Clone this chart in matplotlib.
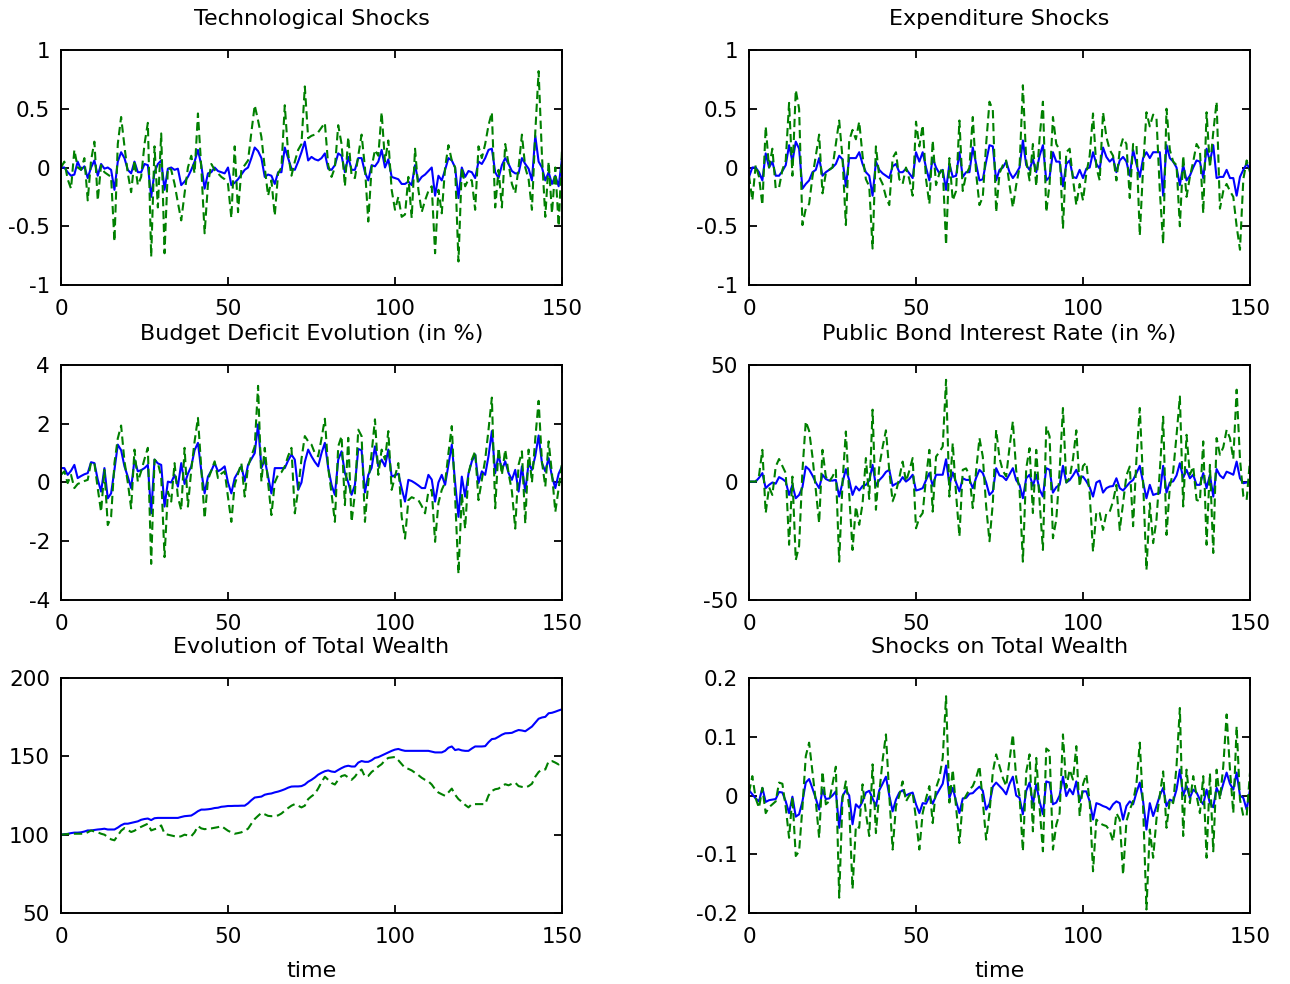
import numpy as np
import matplotlib
matplotlib.use("Agg")
import matplotlib.pyplot as plt

plt.rcParams['font.family'] = ['DejaVu Sans']

t = np.arange(151)

# technological shocks
tech_b = [0.0, 0.0, -0.04, -0.07, -0.06, 0.05, -0.02, 0.01, -0.09, 0.0, 0.06, -0.07, 0.03, -0.01, 0.0, -0.02, -0.19, 0.05, 0.13, 0.08,
          -0.02, -0.05, 0.05, -0.04, -0.04, 0.03, 0.02, -0.25, -0.04, 0.03, 0.06, -0.19, -0.01, 0.0, -0.02, -0.01, -0.15, -0.12, -0.08, -0.02,
          0.05, 0.15, 0.02, -0.18, -0.05, -0.04, 0.0, -0.03, -0.04, -0.05, 0.0, -0.15, -0.13, -0.1, -0.06, -0.02, 0.0, 0.08, 0.17, 0.14,
          0.08, -0.08, -0.06, -0.07, -0.14, -0.04, -0.04, 0.17, 0.08, -0.01, -0.02, 0.05, 0.13, 0.22, 0.06, 0.09, 0.07, 0.06, 0.08, 0.12,
          -0.01, -0.02, 0.02, 0.12, 0.1, -0.04, 0.09, -0.02, -0.02, 0.08, 0.08, -0.04, -0.11, 0.02, 0.01, 0.05, 0.15, 0.0, 0.07, -0.08,
          -0.09, -0.1, -0.14, -0.14, -0.12, -0.15, 0.02, -0.12, -0.08, -0.06, -0.03, 0.0, -0.24, -0.07, -0.11, -0.02, 0.08, 0.06, 0.0, -0.26,
          0.0, -0.08, -0.03, -0.04, -0.09, 0.05, 0.03, 0.08, 0.15, 0.16, -0.04, -0.09, 0.02, 0.08, 0.03, -0.03, -0.05, -0.05, 0.08, 0.03,
          -0.01, -0.11, 0.27, 0.05, 0.0, -0.11, -0.04, -0.14, -0.07, -0.16, 0.08]
tech_g = [0.0, 0.05, -0.1, -0.18, 0.15, 0.0, -0.02, 0.08, -0.28, 0.06, 0.22, -0.28, 0.02, -0.04, -0.06, -0.08, -0.63, 0.2, 0.43, 0.18,
          -0.05, -0.21, 0.06, -0.15, -0.08, 0.2, 0.38, -0.76, 0.18, -0.34, 0.29, -0.73, 0.0, -0.02, -0.14, -0.3, -0.45, -0.22, 0.0, 0.1,
          -0.05, 0.46, 0.0, -0.56, -0.14, 0.03, -0.02, -0.05, -0.08, -0.1, -0.14, -0.43, 0.18, -0.38, -0.02, 0.02, 0.06, 0.3, 0.53, 0.4,
          0.26, 0.0, -0.24, -0.11, -0.41, -0.05, 0.0, 0.53, 0.12, -0.07, 0.05, 0.15, 0.2, 0.69, 0.25, 0.27, 0.28, 0.3, 0.34, 0.38,
          0.02, -0.08, 0.0, 0.36, 0.2, -0.16, 0.26, -0.07, -0.09, 0.1, 0.28, 0.0, -0.46, 0.0, 0.15, 0.1, 0.47, 0.05, 0.23, -0.19,
          -0.36, -0.25, -0.42, -0.4, -0.08, -0.43, 0.16, -0.19, -0.38, -0.28, -0.2, -0.16, -0.73, -0.19, -0.39, 0.0, 0.19, 0.06, 0.0, -0.8,
          0.0, -0.16, -0.1, -0.11, -0.36, 0.18, 0.08, 0.2, 0.36, 0.47, -0.34, -0.02, -0.34, 0.2, 0.03, -0.14, -0.22, 0.0, 0.28, 0.0,
          -0.1, -0.36, 0.3, 0.82, 0.1, -0.42, 0.05, -0.39, 0.0, -0.5, 0.15]

# expenditure shocks
exp_b = [-0.08, 0.0, 0.0, -0.04, -0.11, 0.12, 0.0, 0.05, -0.07, -0.07, -0.03, 0.02, 0.19, 0.05, 0.22, 0.16, -0.18, -0.14, -0.11, -0.04,
         -0.02, 0.08, -0.07, -0.04, -0.02, 0.0, 0.03, 0.1, 0.07, -0.16, 0.08, 0.08, 0.08, 0.13, 0.03, -0.04, -0.07, -0.24, 0.05, -0.02,
         -0.05, -0.07, -0.09, 0.01, 0.03, -0.04, -0.04, -0.01, -0.05, -0.09, 0.13, 0.05, 0.13, 0.0, -0.11, 0.08, 0.0, -0.05, -0.02, -0.19,
         0.03, -0.08, -0.07, 0.13, -0.08, -0.04, -0.04, 0.17, 0.03, -0.11, -0.1, 0.05, 0.19, 0.18, -0.11, -0.02, 0.0, 0.05, -0.04, -0.09,
         -0.05, 0.0, 0.23, 0.02, -0.02, 0.07, -0.04, 0.1, 0.19, -0.11, -0.08, 0.13, 0.05, 0.05, -0.16, 0.03, 0.06, -0.08, -0.09, -0.02,
         -0.09, -0.01, 0.0, 0.13, 0.03, -0.01, 0.17, 0.09, 0.05, 0.08, -0.04, 0.06, 0.09, 0.05, -0.07, 0.15, 0.03, -0.08, 0.08, 0.13,
         0.08, 0.13, 0.13, 0.13, -0.24, 0.19, 0.08, 0.05, 0.0, -0.15, 0.02, -0.11, -0.07, 0.0, 0.06, 0.05, -0.09, 0.16, 0.05, 0.19,
         -0.09, -0.08, -0.08, -0.02, -0.09, -0.09, -0.24, -0.08, -0.02, 0.03, -0.01]
exp_g = [-0.07, -0.28, 0.02, -0.08, -0.32, 0.35, 0.0, 0.16, -0.18, -0.17, -0.02, 0.06, 0.55, -0.07, 0.66, 0.5, -0.49, -0.35, -0.31, -0.08,
         0.1, 0.28, -0.22, -0.05, -0.02, 0.0, 0.2, 0.4, 0.08, -0.49, 0.23, 0.32, 0.24, 0.39, 0.1, -0.1, -0.16, -0.69, 0.18, -0.08,
         -0.14, -0.25, -0.32, 0.08, 0.13, -0.1, -0.14, 0.0, -0.1, -0.24, 0.39, 0.18, 0.36, -0.1, -0.31, 0.23, -0.15, -0.05, 0.0, -0.66,
         0.08, -0.28, -0.2, 0.4, -0.2, -0.06, 0.0, 0.43, -0.05, -0.32, -0.25, 0.2, 0.56, 0.49, -0.38, -0.05, 0.02, 0.06, -0.15, -0.34,
         -0.15, 0.0, 0.7, 0.06, -0.11, 0.2, -0.16, 0.25, 0.56, -0.38, -0.14, 0.43, 0.2, 0.15, -0.52, 0.13, 0.16, -0.1, -0.32, -0.14,
         -0.28, -0.05, 0.1, 0.46, 0.0, -0.11, 0.47, 0.26, 0.15, 0.1, -0.11, 0.15, 0.25, 0.2, -0.26, 0.2, 0.2, -0.58, 0.0, 0.47,
         0.35, 0.45, 0.42, -0.2, -0.65, 0.5, 0.15, 0.05, 0.02, -0.5, 0.1, -0.25, -0.08, 0.05, 0.2, 0.15, -0.39, 0.47, 0.0, 0.3,
         0.56, -0.35, -0.2, -0.14, -0.2, -0.25, -0.5, -0.7, -0.1, 0.06, -0.04]

# budget deficit (in %)
bud_b = [0.49, 0.49, 0.26, 0.4, 0.6, 0.15, 0.22, 0.28, 0.32, 0.69, 0.66, 0.1, -0.31, 0.49, -0.54, -0.37, 0.43, 1.29, 1.1, 0.55,
         0.2, -0.19, 0.78, 0.38, 0.42, 0.49, 0.6, -1.05, 0.78, 0.65, 0.6, -0.82, 0.03, 0.0, 0.26, -0.14, 0.66, -0.05, 0.3, 0.55,
         1.1, 1.35, 0.4, -0.37, 0.2, 0.4, 0.66, 0.38, 0.45, 0.55, 0.0, -0.37, 0.15, 0.35, 0.55, 0.05, 0.6, 0.8, 1.0, 1.98,
         0.49, 0.78, 0.2, -0.37, 0.49, 0.49, 0.49, 0.49, 0.75, 0.95, 0.78, -0.25, 0.0, 0.7, 1.12, 0.89, 0.7, 0.55, 1.0, 1.35,
         0.5, -0.08, -0.42, 0.78, 1.06, 0.32, 0.0, -0.42, -0.08, 1.14, 1.1, -0.34, 0.26, 0.5, 1.23, 0.55, 0.78, 0.55, 1.12, 0.2,
         0.25, 0.3, -0.2, -0.65, 0.09, 0.05, -0.02, -0.1, -0.19, -0.19, 0.26, 0.1, -0.65, 0.0, 0.26, -0.08, 0.6, 1.29, 0.0, -1.17,
         0.2, -0.48, 0.3, 0.72, 0.95, -0.02, 0.38, 0.26, 0.9, 1.75, 0.32, 0.95, 0.43, 0.72, 0.32, 0.09, 0.43, -0.31, 0.55, -0.31,
         0.66, 0.43, 0.9, 1.6, 0.66, 0.38, 0.83, 0.2, -0.19, 0.3, 0.55]
bud_g = [0.26, 0.38, -0.02, 0.26, -0.19, -0.05, 0.0, 0.05, 0.09, 0.69, 0.66, -0.2, -1.0, 0.43, -1.45, -1.17, 0.66, 1.5, 1.94, 0.72,
         0.0, -0.88, 1.12, 0.03, 0.38, 0.8, 1.18, -2.77, 0.78, 0.66, 0.2, -2.54, -0.31, -0.65, 0.66, -0.5, -0.94, 1.18, -0.82, 0.43,
         1.4, 2.2, 0.5, -1.22, 0.09, 0.4, 0.72, 0.15, 0.3, 0.38, -0.5, -1.34, -0.08, 0.3, 0.66, -0.48, 0.55, 0.9, 1.23, 3.29,
         0.03, 1.18, 0.0, -1.11, 0.0, 0.26, 0.35, 0.55, 0.9, 1.18, -1.05, -0.25, 0.8, 1.58, 1.4, 1.29, 1.0, 0.89, 1.5, 2.17,
         0.5, -0.37, -1.34, 1.23, 1.58, -0.77, 1.52, -1.34, -0.37, 1.8, 1.58, -1.34, 0.0, 1.0, 2.15, 0.26, 1.12, 0.78, 1.75, -0.25,
         0.2, 0.66, -1.17, -1.91, -0.6, -0.5, -0.55, -0.6, -0.8, -1.05, -0.3, -0.25, -2.02, -0.7, -0.25, 0.0, 1.0, 1.92, -0.5, -3.11,
         -0.37, -1.57, 0.3, 0.78, 1.06, -0.6, 0.1, 0.78, 1.8, 2.89, -0.88, 1.18, 0.26, 1.12, 0.32, -0.3, -1.57, 0.6, 1.06, -1.4,
         1.12, 0.0, 1.5, 2.78, 0.7, -0.14, 1.4, 0.3, -1.0, -0.2, 0.66]

# public bond interest rate (in %)
bond_b = [0.4, 0.4, 0.4, 2.0, 4.0, -2.4, -1.0, 0.0, -0.5, 2.3, 1.5, 0.4, -5.3, -1.0, -6.7, -5.3, -2.0, 6.8, 5.5, 3.0,
          0.0, -2.4, 3.3, 1.5, 0.8, 0.8, 1.1, -6.0, 0.0, 5.7, 1.0, -5.3, -1.7, -3.4, -1.5, -1.0, 0.8, 7.5, -1.4, 1.0,
          2.5, 4.5, 5.4, -1.4, -0.5, 0.0, 2.3, 0.4, 1.5, 3.3, -3.4, -3.0, -2.4, 1.0, 4.0, -1.4, 3.3, 3.3, 3.3, 9.9,
          -1.0, 4.3, 0.0, -3.8, 1.8, 1.1, 1.1, -2.4, 2.0, 5.4, 4.0, 0.0, -5.3, -3.8, 6.1, 3.0, 2.5, 1.0, 3.5, 6.1,
          1.0, -1.0, -6.7, 1.8, 3.3, -1.4, 3.3, -3.0, -6.0, 6.1, 5.4, -4.3, -2.0, -1.0, 7.1, 0.0, 1.0, 3.0, 5.4, 1.8,
          2.5, 0.5, -2.0, -6.0, 0.0, 0.8, -4.3, -2.4, -1.7, -1.5, 1.8, -2.4, -3.4, -1.7, 0.0, 1.1, 4.0, 7.1, 0.0, -6.7,
          -1.0, -5.3, -4.8, -4.5, 7.1, -4.3, 0.0, 0.5, 3.0, 8.2, 2.0, 5.4, 1.8, 3.3, -1.0, -1.0, 4.0, -2.4, 3.3, -6.0,
          5.7, 3.0, 1.8, 4.6, 4.0, 3.3, 8.9, 1.8, -0.3, 0.0, 0.4]
bond_g = [0.4, 0.4, 0.4, 3.0, 13.9, -13.0, -2.0, -5.3, 6.8, 10.0, 7.0, 4.0, -26.5, 2.5, -33.0, -27.0, 5.0, 26.0, 22.0, 11.0,
          -3.0, -17.3, 13.9, 2.5, 0.4, 2.5, 5.4, -33.7, 0.0, 21.7, -5.0, -28.7, -10.2, -18.0, -9.0, 10.4, -7.0, 31.0, -11.6, 6.8,
          15.0, 22.2, 5.0, -8.0, -4.0, 2.0, 8.9, 0.4, 5.0, 10.4, -19.5, -15.0, -13.0, 2.0, 13.9, -12.4, 11.0, 13.0, 15.3, 43.7,
          -6.0, 16.8, -5.0, -23.0, 5.4, 6.0, 3.0, -10.9, 5.0, 18.9, 11.0, -10.0, -25.0, -8.8, 22.4, 10.4, 5.0, 2.6, 15.0, 26.0,
          5.0, -3.0, -33.7, 6.0, 14.6, -13.0, 13.9, -8.0, -28.7, 23.9, 19.6, -23.7, -15.8, 5.0, 31.7, 0.0, 2.0, 10.0, 22.2, -1.7,
          7.0, 8.5, -5.0, -29.4, -12.4, -13.0, -20.2, -13.0, -12.4, -8.0, -1.0, -20.2, -8.8, 3.0, 6.8, -18.6, 10.0, 31.7, 0.0, -37.2,
          -8.8, -25.8, -15.8, 5.0, 28.0, -22.3, -1.7, 4.7, 20.0, 36.6, -10.2, 20.3, 3.3, 6.8, -7.4, -8.0, 17.5, -26.5, 7.5, -30.0,
          18.9, 11.8, 15.0, 22.4, 18.9, 10.0, 39.5, 10.0, -5.8, -7.4, 9.7]

# total wealth
wealth_b = [100, 100.3, 100.5, 101, 101.3, 101.3, 101.5, 102, 102.7, 102.7, 103, 103.3, 103.5, 103.8, 103.3, 103.3, 103.3, 104.5, 106, 107,
            107, 107.5, 108, 108.5, 109.5, 110, 110.3, 109.3, 110.5, 110.7, 110.7, 110.7, 110.7, 110.7, 110.7, 110.7, 111.3, 111.8, 112, 112.2,
            113.5, 115, 116, 116, 116.2, 116.5, 117, 117.2, 117.8, 118, 118.3, 118.3, 118.4, 118.4, 118.5, 118.5, 120, 122, 123.7, 124,
            124.3, 125.5, 126, 126.3, 127, 127.5, 128.2, 129, 130, 130.7, 130.8, 130.8, 131, 132, 133.8, 135, 136.5, 138.3, 139.5, 140.5,
            141, 140.3, 140, 141.3, 142.5, 143.5, 144, 143.5, 143.5, 146, 147, 146.5, 146.5, 147.5, 149, 149.5, 150.5, 151.5, 152.5, 153.5,
            154.3, 154.7, 154, 153.5, 153.5, 153.5, 153.5, 153.5, 153.5, 153.5, 153.5, 153, 152.5, 152.5, 152.5, 153.5, 155.5, 156.3, 154, 154.5,
            153.8, 153.5, 153.5, 155, 156.3, 156.3, 156.3, 156.5, 159, 161, 161.3, 162.5, 163.8, 164.7, 164.8, 165, 166, 166.8, 166.5, 166,
            167.5, 169, 171.5, 174, 174.8, 175.2, 177.5, 177.8, 178.5, 179.3, 180]
wealth_g = [100, 100.2, 100.4, 100.6, 100.6, 100.6, 100.6, 100.6, 101.5, 102.7, 102, 101.5, 100.6, 100, 98.5, 97, 96.4, 99.5, 102.5, 104.2,
            103, 101.7, 102.5, 104, 105, 106, 107, 102.7, 103.5, 104, 105.9, 100.6, 100, 99.5, 99, 98.5, 99, 100, 99.5, 99,
            101.5, 105.5, 104, 103.5, 103.8, 104, 104.4, 104.8, 105.5, 104, 102.5, 101.5, 100.6, 101, 101.5, 102.5, 103.8, 107, 110, 112,
            113.9, 113, 112, 111.8, 112, 112.3, 113.5, 115.3, 117, 118.5, 119.5, 118.5, 117.4, 118.5, 122.7, 124.5, 126, 129.5, 133.5, 137,
            135, 133, 132, 135, 137.4, 138, 136.5, 135, 137, 140, 141.6, 137, 137.5, 140, 141.6, 143.5, 145, 147.5, 149, 149.3,
            149.6, 147.5, 145, 142.6, 142, 141, 139.5, 138, 136.3, 135, 134, 132, 129, 126.9, 125.8, 124.8, 127, 129.4, 125.5, 122.7,
            121, 119, 117.4, 119.5, 119.5, 119.5, 119.5, 119.5, 125, 127.9, 129, 129.4, 131, 132.2, 131.5, 132.5, 133.2, 131, 130.5, 130.1,
            131, 132.5, 137, 140, 141.6, 141.6, 146.9, 147, 146, 144.8, 147.5]

# shocks on total wealth
wsh_b = [0.009, 0.002, -0.005, -0.01, 0.013, -0.011, -0.008, -0.007, -0.006, 0.006, 0.005, -0.01, -0.03, -0.002, -0.036, -0.032, -0.01, 0.022, 0.028, 0.012,
         -0.005, -0.024, 0.01, -0.006, -0.005, 0.0, 0.007, -0.055, -0.001, 0.009, 0.0, -0.049, -0.015, -0.021, -0.01, 0.005, 0.008, -0.005, -0.018, 0.009,
         0.02, 0.032, 0.0, -0.027, -0.007, 0.005, 0.009, 0.0, 0.003, 0.005, -0.015, -0.03, -0.013, -0.014, -0.002, -0.014, 0.0, 0.01, 0.02, 0.051,
         -0.004, 0.013, -0.01, -0.03, -0.005, -0.004, 0.003, 0.004, 0.01, 0.015, 0.008, -0.024, -0.014, 0.015, 0.022, 0.016, 0.01, 0.002, 0.02, 0.032,
         0.0, -0.004, -0.032, 0.008, 0.022, -0.015, 0.019, -0.01, -0.032, 0.024, 0.022, -0.015, -0.012, 0.0, 0.032, -0.001, 0.011, 0.002, 0.024, -0.01,
         0.007, 0.007, -0.01, -0.041, -0.013, -0.015, -0.018, -0.02, -0.024, -0.015, -0.01, -0.013, -0.041, -0.018, -0.01, -0.015, 0.005, 0.022, -0.01, -0.058,
         -0.013, -0.035, -0.018, 0.0, 0.013, -0.018, -0.007, -0.01, 0.01, 0.044, 0.0, 0.016, -0.004, 0.01, 0.005, -0.007, -0.015, 0.01, -0.013, -0.02,
         0.013, 0.0, 0.02, 0.039, 0.02, 0.01, 0.039, 0.0, -0.004, -0.024, 0.01]
wsh_g = [0.005, 0.033, -0.005, -0.021, 0.013, -0.03, -0.02, -0.015, -0.01, 0.022, 0.02, -0.02, -0.072, -0.002, -0.103, -0.095, -0.02, 0.067, 0.09, 0.04,
         -0.01, -0.072, 0.041, -0.015, -0.01, 0.02, 0.049, -0.174, -0.005, 0.024, -0.02, -0.159, -0.052, -0.055, 0.019, -0.03, -0.069, 0.053, -0.064, 0.004,
         0.06, 0.104, 0.0, -0.092, -0.018, 0.0, 0.024, -0.01, 0.0, 0.005, -0.04, -0.092, -0.03, -0.005, 0.016, -0.047, 0.013, 0.03, 0.064, 0.169,
         -0.012, 0.044, -0.02, -0.081, -0.01, 0.0, 0.01, 0.016, 0.03, 0.05, -0.01, -0.075, -0.03, 0.04, 0.07, 0.05, 0.03, 0.016, 0.06, 0.104,
         0.03, -0.001, -0.095, 0.04, 0.07, -0.061, 0.064, -0.02, -0.095, 0.08, 0.075, -0.092, -0.05, -0.03, 0.104, 0.013, 0.044, 0.027, 0.084, -0.035,
         0.019, 0.036, -0.01, -0.129, -0.041, -0.047, -0.05, -0.052, -0.06, -0.078, -0.03, -0.041, -0.135, -0.044, -0.024, -0.01, 0.02, 0.09, -0.02, -0.194,
         -0.058, -0.106, -0.04, 0.0, 0.041, -0.055, -0.007, -0.013, 0.05, 0.149, -0.069, 0.044, -0.013, 0.033, 0.0, -0.03, 0.033, -0.106, 0.038, -0.095,
         0.044, -0.007, 0.05, 0.138, 0.044, -0.03, 0.118, -0.007, -0.035, -0.035, 0.039]

titles = ['Technological Shocks', 'Expenditure Shocks',
          'Budget Deficit Evolution (in %)', 'Public Bond Interest Rate (in %)',
          'Evolution of Total Wealth', 'Shocks on Total Wealth']
series = [(tech_b, tech_g), (exp_b, exp_g), (bud_b, bud_g),
          (bond_b, bond_g), (wealth_b, wealth_g), (wsh_b, wsh_g)]
ylims = [(-1, 1), (-1, 1), (-4, 4), (-50, 50), (50, 200), (-0.2, 0.2)]
yticks = [[-1, -0.5, 0, 0.5, 1], [-1, -0.5, 0, 0.5, 1], [-4, -2, 0, 2, 4],
          [-50, 0, 50], [50, 100, 150, 200], [-0.2, -0.1, 0, 0.1, 0.2]]
yticklabels = [['-1', '-0.5', '0', '0.5', '1'], ['-1', '-0.5', '0', '0.5', '1'],
               ['-4', '-2', '0', '2', '4'], ['-50', '0', '50'],
               ['50', '100', '150', '200'], ['-0.2', '-0.1', '0', '0.1', '0.2']]

fig = plt.figure(figsize=(12.9, 9.84), dpi=100)
lefts = [61 / 1290, 749 / 1290]
width = 501 / 1290
bottoms = [1 - 285 / 984, 1 - 600 / 984, 1 - 913 / 984]
height = 235 / 984

for i in range(6):
    row, col = divmod(i, 2)
    ax = fig.add_axes([lefts[col], bottoms[row], width, height])
    b, g = series[i]
    ax.plot(t, b, color='#0000ff', lw=1.5)
    ax.plot(t, g, color='#008000', lw=1.5, ls=(0, (4, 2.2)))
    ax.set_xlim(0, 150)
    ax.set_ylim(*ylims[i])
    ax.set_xticks([0, 50, 100, 150])
    ax.set_xticklabels(['0', '50', '100', '150'])
    ax.set_yticks(yticks[i])
    ax.set_yticklabels(yticklabels[i])
    ax.tick_params(direction='in', top=True, right=True, length=6, width=1.3,
                   labelsize=15.5)
    ax.tick_params(axis='x', pad=10)
    ax.tick_params(axis='y', pad=8)
    for s in ax.spines.values():
        s.set_linewidth(1.4)
    ax.set_title(titles[i], fontsize=16, pad=18)
    if row == 2:
        ax.set_xlabel('time', fontsize=16, labelpad=10)

fig.savefig('out.png', dpi=100)
